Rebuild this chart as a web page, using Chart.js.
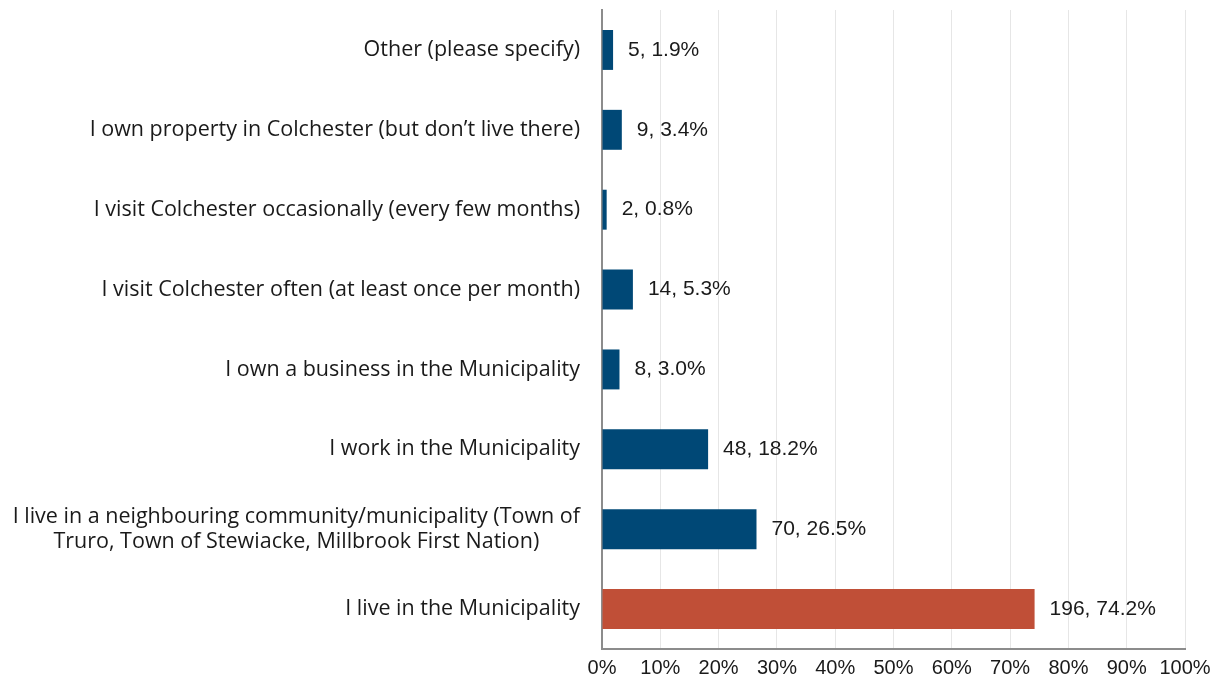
<!DOCTYPE html>
<html>
<head>
<meta charset="utf-8">
<title>Connection to Colchester</title>
<script src="https://cdn.jsdelivr.net/npm/chart.js@4/dist/chart.umd.min.js"></script>
<style>
    html, body { margin: 0; padding: 0; background: #fff; }
    #wrap { width: 1220px; height: 687px; position: relative; }
</style>
</head>
<body>
<div id="wrap"><canvas id="barChart"></canvas></div>
<script>
// Response categories, top to bottom
const categories = [
    'Other (please specify)',
    'I own property in Colchester (but don\u2019t live there)',
    'I visit Colchester occasionally (every few months)',
    'I visit Colchester often (at least once per month)',
    'I own a business in the Municipality',
    'I work in the Municipality',
    ['I live in a neighbouring community/municipality (Town of', 'Truro, Town of Stewiacke, Millbrook First Nation)'],
    'I live in the Municipality',
];
const counts = [5, 9, 2, 14, 8, 48, 70, 196];
const percents = [1.9, 3.4, 0.8, 5.3, 3.0, 18.2, 26.5, 74.2];
const xTicks = [0, 10, 20, 30, 40, 50, 60, 70, 80, 90, 100];

const BLUE = '#004876';
const RED = '#C04F37';
const barColors = categories.map((c, i) => (i === categories.length - 1 ? RED : BLUE));

// Category names drawn left of the axis; wrapped names are centred line by line
const categoryLabels = {
    id: 'categoryLabels',
    afterDraw(chart) {
        const { ctx, chartArea } = chart;
        const yScale = chart.scales.y;
        const right = chartArea.left - 22;
        const lineH = 25;
        ctx.save();
        ctx.font = '21.5px "Open Sans"';
        ctx.fillStyle = '#1a1a1a';
        ctx.textBaseline = 'middle';
        categories.forEach((label, i) => {
            const y = yScale.getPixelForTick(i);
            if (Array.isArray(label)) {
                const w = Math.max(...label.map(l => ctx.measureText(l).width));
                const cx = right - w / 2;
                ctx.textAlign = 'center';
                label.forEach((line, j) => {
                    ctx.fillText(line, cx, y + (j - (label.length - 1) / 2) * lineH);
                });
            } else {
                ctx.textAlign = 'right';
                ctx.fillText(label, right, y);
            }
        });
        ctx.restore();
    },
};

// "count, percent" next to each bar
const valueLabels = {
    id: 'valueLabels',
    afterDatasetsDraw(chart) {
        const { ctx } = chart;
        const meta = chart.getDatasetMeta(0);
        ctx.save();
        ctx.font = '21px "Liberation Sans"';
        ctx.fillStyle = '#1a1a1a';
        ctx.textAlign = 'left';
        ctx.textBaseline = 'middle';
        meta.data.forEach((bar, i) => {
            ctx.fillText(counts[i] + ', ' + percents[i].toFixed(1) + '%', bar.x + 15, bar.y);
        });
        ctx.restore();
    },
};

const ctx = document.getElementById('barChart').getContext('2d');
const barChart = new Chart(ctx, {
    type: 'bar',
    data: {
        labels: categories,
        datasets: [
            {
                data: percents,
                backgroundColor: barColors,
                borderWidth: 0,
                barPercentage: 0.5,
                categoryPercentage: 1,
            },
        ],
    },
    options: {
        indexAxis: 'y',
        responsive: true,
        maintainAspectRatio: false,
        animation: false,
        layout: {
            padding: { top: 10, right: 35, left: 0, bottom: 0 },
        },
        plugins: {
            legend: { display: false },
            tooltip: { enabled: false },
        },
        scales: {
            x: {
                min: xTicks[0],
                max: xTicks[xTicks.length - 1],
                afterBuildTicks: (scale) => {
                    scale.ticks = xTicks.map(v => ({ value: v }));
                },
                afterFit: (scale) => { scale.height = 38; },
                grid: { color: '#e6e6e6', lineWidth: 1, drawTicks: false },
                border: { color: '#8c8c8c', width: 2 },
                ticks: {
                    padding: 7,
                    color: '#1a1a1a',
                    font: { family: '"Liberation Sans"', size: 20 },
                    maxRotation: 0,
                    callback: (value) => value + '%',
                },
            },
            y: {
                afterFit: (scale) => { scale.width = 602; },
                grid: { display: false },
                border: { display: true, color: '#8c8c8c', width: 2 },
                ticks: { display: false },
            },
        },
    },
    plugins: [categoryLabels, valueLabels],
});
</script>
</body>
</html>
